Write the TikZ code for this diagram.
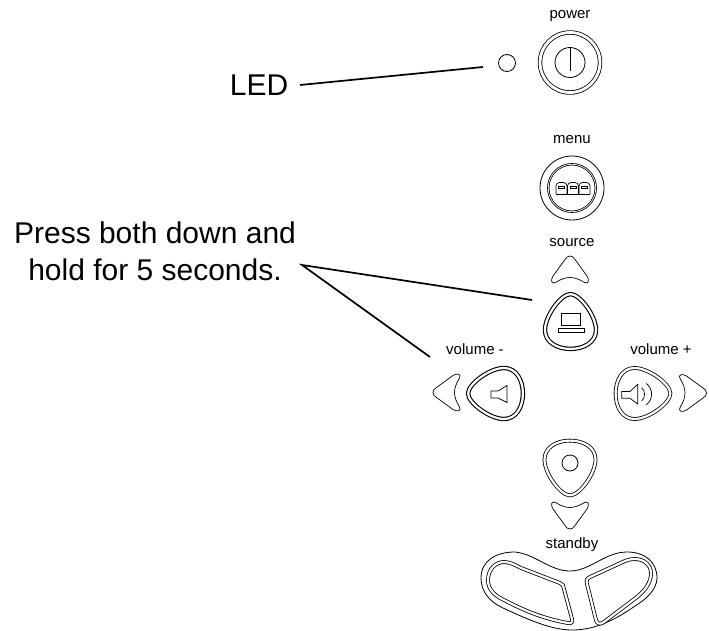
\documentclass[tikz,border=0pt]{standalone}
\usepackage{fontspec}
\setmainfont{Liberation Sans}
\tikzset{
  keylabel/.style={font=\fontsize{15}{16}\selectfont,inner sep=0pt},
  bigtext/.style={font=\fontsize{30}{37}\selectfont,inner sep=0pt,align=center},
  ring/.style={circle,draw,inner sep=0pt,line width=.8pt},
  ringtwo/.style={ring,double,double distance=2.8pt},
  leader/.style={line width=1.7pt},
  symline/.style={line width=.7pt},
  trikey/.pic={
    \draw[line width=#1,double,double distance=2.2pt,scale=.945]
      (0,-29) .. controls (10,-29) and (27,-6) .. (27,9)
      .. controls (27,22) and (14,29) .. (0,29)
      .. controls (-14,29) and (-27,22) .. (-27,9)
      .. controls (-27,-6) and (-10,-29) .. (0,-29) -- cycle;
  },
  arrowkey/.pic={
    \draw[line width=.7pt]
      (0,0) .. controls (2.5,0) and (3.5,1.5) .. (5,3.5) -- (17,20)
      .. controls (20,24.5) and (18,28.5) .. (14.5,26.5)
      .. controls (9,23) and (4,21.5) .. (0,21.5)
      .. controls (-4,21.5) and (-9,23) .. (-14.5,26.5)
      .. controls (-18,28.5) and (-20,24.5) .. (-17,20) -- (-5,3.5)
      .. controls (-3.5,1.5) and (-2.5,0) .. (0,0) -- cycle;
  },
}
\begin{document}
\begin{tikzpicture}[x=1pt,y=-1pt]
\useasboundingbox (0,0) rectangle (709,631);
% texts
\node[bigtext] (ledlabel) at (259,85) {LED};
\node[bigtext] (presslabel) at (155,251) {Press both down and\\hold for 5 seconds.};
\node[keylabel] (powerlabel) at (570,16) {power};
\node[keylabel] (menulabel) at (572,140) {menu};
\node[keylabel] (sourcelabel) at (572,243) {source};
\node[keylabel] (volminuslabel) at (475,349) {volume -};
\node[keylabel] (volpluslabel) at (661,349) {volume +};
\node[keylabel] (standbylabel) at (572,545) {standby};
% power and menu
\node[ring,minimum size=17pt] (led) at (507,63) {};
\node[ringtwo,minimum size=60pt] (power) at (570,62.5) {};
\node[ring,minimum size=30pt] (powerinner) at (570,62.5) {};
\draw[symline] (powerinner.north)+(0,.5) -- +(0,24);
\node[ring,minimum size=64pt] (menu) at (572,188) {};
\node[ring,double,double distance=.7pt,minimum size=47.5pt] (menuinner) at (572,188) {};
\foreach \x in {556,567.5,579}{
  \draw[symline,rounded corners=3.5pt] (\x,194) -- (\x,182.5) -- (\x+11,182.5) -- (\x+11,194);
  \draw[line width=.6pt] (\x+2.5,186) rectangle (\x+8.5,188.5);
}
\draw[symline] (556,194) -- (590,194);
% cursor keys
\pic at (570,256) {arrowkey};
\pic[rotate=90] at (433,392.5) {arrowkey};
\pic[rotate=-90] at (706.5,393) {arrowkey};
\pic[rotate=180] at (570,529) {arrowkey};
\pic at (570.5,321.5) {trikey=1.1pt};
\pic[rotate=90] at (495.5,393.5) {trikey=1.1pt};
\pic[rotate=-90] at (643,393.5) {trikey=.8pt};
\pic[rotate=180] at (570,468) {trikey=.8pt};
% source symbol
\draw[symline] (561,313) rectangle (580,325);
\draw[symline] (558,328) rectangle (584,332);
% volume symbols
\draw[symline] (491,391) -- (498,391) -- (507,385.5) -- (507,402.5) -- (498,398) -- (491,398) -- cycle;
\draw[symline] (621.7,391.5) -- (630,391.5) -- (637.7,384.3) -- (637.7,404) -- (630,398.3) -- (621.7,398.3) -- cycle;
\draw[symline] (641.7,387.7) .. controls (645.5,391) and (645.5,397.5) .. (641.7,401);
\draw[symline] (646,383.3) .. controls (653.5,389) and (653.5,399.5) .. (646,405);
\node[ring,minimum size=16pt] (enterdot) at (570,463) {};
% standby
\draw[line width=.8pt]
  (481,578) .. controls (481,560) and (497,552) .. (515,552)
  .. controls (535,554) and (550,571) .. (570,571)
  .. controls (590,571) and (605,552) .. (627,552)
  .. controls (645,552) and (657,562) .. (657,578)
  .. controls (657,590) and (645,600) .. (635,606)
  .. controls (615,620) and (595,630) .. (572,630)
  .. controls (550,630) and (525,618) .. (503,608)
  .. controls (490,602) and (481,592) .. (481,578) -- cycle;
\draw[line width=.8pt,double,double distance=2.2pt]
  (504,562) .. controls (510,562) and (515,565) .. (521,568) -- (560,583)
  .. controls (563,584) and (563.5,586) .. (564,589) -- (572,619)
  .. controls (573,622) and (571,624) .. (568,623)
  .. controls (545,619) and (525,611) .. (506,601)
  .. controls (495,596) and (488,590) .. (488,580)
  .. controls (488,570) and (495,562) .. (504,562) -- cycle;
\draw[line width=.8pt,double,double distance=2.2pt]
  (590,577) -- (625,561) .. controls (640,555) and (652,563) .. (651,575)
  .. controls (650,585) and (643,592) .. (637,597) -- (604,622)
  .. controls (600,625) and (597,624) .. (596,620) -- (587,584)
  .. controls (586,580) and (587,578.5) .. (590,577) -- cycle;
% leaders
\coordinate (ledstart) at (300,85);
\coordinate (ledtip) at (483,67);
\coordinate (pressjoin) at (302,265);
\coordinate (sourcetip) at (532,300);
\coordinate (volumetip) at (430,357);
\draw[leader] (ledstart) -- (ledtip);
\draw[leader] (sourcetip) -- (pressjoin) -- (volumetip);
\end{tikzpicture}
\end{document}
